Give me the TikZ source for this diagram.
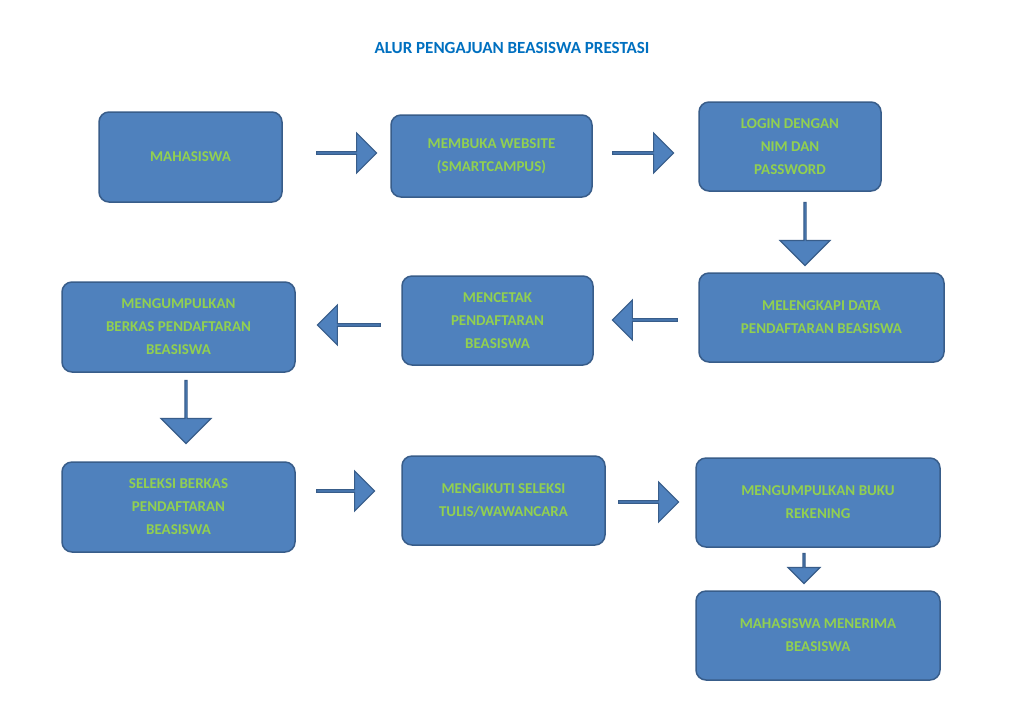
\documentclass[tikz,border=0pt]{standalone}
\usepackage{fontspec}
\setmainfont{Carlito}
\usetikzlibrary{shapes.arrows}
\definecolor{boxfill}{HTML}{4F81BD}
\definecolor{boxline}{HTML}{385D8A}
\definecolor{txt}{HTML}{92D050}
\definecolor{ttl}{HTML}{0070C0}
\tikzset{
 bx/.style={draw=boxline,line width=1.5pt,fill=boxfill,rounded corners=10pt,align=center,text=txt,font=\fontsize{15}{23}\selectfont\bfseries},
 arr/.style={single arrow,draw=boxline,line width=1.2pt,fill=boxfill,minimum width=40pt,single arrow head extend=9pt,inner sep=0pt,minimum height=#1},
}
\newcommand{\bxat}[6]{\node[bx,minimum width=#4-#2,minimum height=#5-#3] (#1) at ({(#2+#4)/2},{(#3+#5)/2}) {#6};}
\begin{document}
\begin{tikzpicture}[x=1pt,y=-1pt]
\path[use as bounding box,fill=white] (0,0) rectangle (1024,724);
\node[font=\fontsize{17}{20}\selectfont\bfseries,text=ttl] (title) at (512,48) {ALUR PENGAJUAN BEASISWA PRESTASI};
\bxat{b1}{99}{112}{282}{202}{MAHASISWA}
\bxat{b2}{391}{115}{592}{197}{MEMBUKA WEBSITE\\(SMARTCAMPUS)}
\bxat{b3}{699}{102}{881}{191}{LOGIN DENGAN\\NIM DAN\\PASSWORD}
\bxat{b4}{699}{273}{944}{362}{MELENGKAPI DATA\\PENDAFTARAN BEASISWA}
\bxat{b5}{402}{276}{593}{365}{MENCETAK\\PENDAFTARAN\\BEASISWA}
\bxat{b6}{62}{282}{295}{372}{MENGUMPULKAN\\BERKAS PENDAFTARAN\\BEASISWA}
\bxat{b7}{62}{462}{295}{552}{SELEKSI BERKAS\\PENDAFTARAN\\BEASISWA}
\bxat{b8}{402}{456}{605}{545}{MENGIKUTI SELEKSI\\TULIS/WAWANCARA}
\bxat{b9}{696}{458}{940}{547}{MENGUMPULKAN BUKU\\REKENING}
\bxat{b10}{696}{591}{940}{680}{MAHASISWA MENERIMA\\BEASISWA}
\node[arr=60pt] (a1) at (346,153) {};
\node[arr=61pt] (a2) at (642.5,153) {};
\node[arr=63pt,shape border rotate=270,minimum width=50pt,single arrow head extend=13pt] (a3) at (805,233.5) {};
\node[arr=65pt,shape border rotate=180] (a4) at (645.5,320) {};
\node[arr=63pt,shape border rotate=180] (a5) at (349.5,325) {};
\node[arr=63pt,shape border rotate=270,minimum width=50pt,single arrow head extend=13pt] (a6) at (186,411.5) {};
\node[arr=58pt] (a7) at (345,491) {};
\node[arr=60pt] (a8) at (648,502) {};
\node[arr=30pt,shape border rotate=270,minimum width=32pt,single arrow head extend=9pt] (a9) at (804,568) {};
\end{tikzpicture}
\end{document}
